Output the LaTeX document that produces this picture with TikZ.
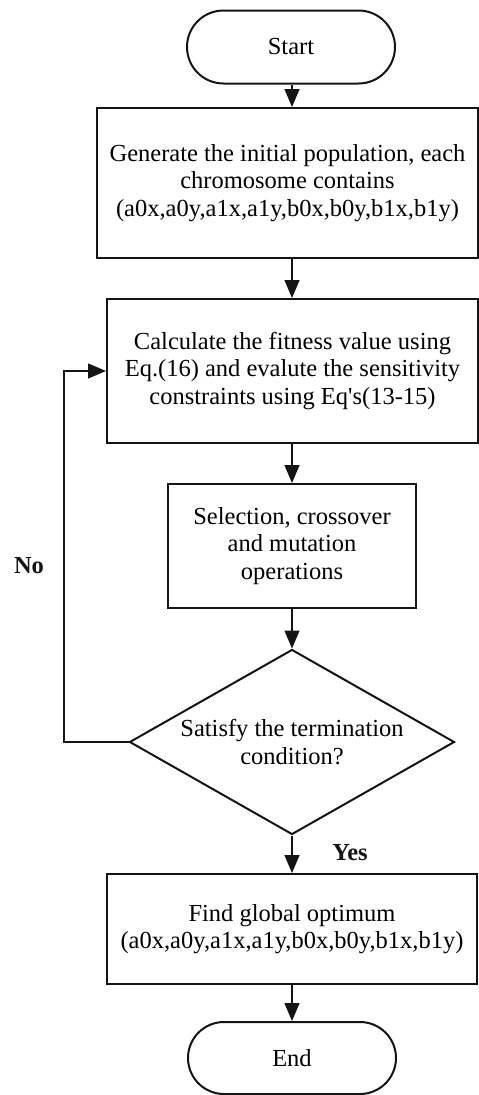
\documentclass[tikz,border=0pt]{standalone}
\usepackage{fontspec}
\setmainfont{Liberation Serif}
\usetikzlibrary{arrows.meta,positioning,shapes.geometric,shapes.misc}
\definecolor{ink}{RGB}{20,20,20}
\tikzset{
  >={Triangle[length=18pt,width=15pt]},
  box/.style={draw=ink,line width=2pt,align=center,inner sep=0pt,
    font=\fontsize{24.5}{27.5}\selectfont},
  term/.style={box,rounded rectangle,minimum width=208pt,minimum height=73pt},
  decision/.style={box,diamond,aspect=1.76,minimum width=325pt,minimum height=185pt},
  flow/.style={->,line width=1.3pt,draw=ink},
  tag/.style={font=\fontsize{24.5}{27.5}\selectfont\bfseries,text=ink},
}
\begin{document}
\begin{tikzpicture}[x=1pt,y=1pt]
  \useasboundingbox (0,0) rectangle (479,-1095);
  \node[term] (start) at (291,-47) {Start};
  \node[box,minimum width=381pt,minimum height=150pt] (init) at (287.5,-183)
    {Generate the initial population, each\\chromosome contains\\(a0x,a0y,a1x,a1y,b0x,b0y,b1x,b1y)};
  \node[box,minimum width=371pt,minimum height=144pt] (fit) at (292.5,-371)
    {Calculate the fitness value using\\Eq.(16) and evalute the sensitivity\\constraints using Eq\textquotesingle s(13-15)};
  \node[box,minimum width=248pt,minimum height=124pt] (ops) at (292,-546)
    {Selection, crossover\\and mutation\\operations};
  \node[decision] (cond) at (292,-742) {Satisfy the termination\\condition?};
  \node[box,minimum width=370pt,minimum height=110pt] (opt) at (292,-929)
    {Find global optimum\\(a0x,a0y,a1x,a1y,b0x,b0y,b1x,b1y)};
  \node[term,minimum height=72pt] (end) at (292,-1058) {End};
  \coordinate (loop) at (64,-742);
  \draw[flow] (start.south -| cond) -- (init.north -| cond);
  \draw[flow] (init.south -| cond) -- (fit.north -| cond);
  \draw[flow] (fit.south -| cond) -- (ops.north);
  \draw[flow] (ops) -- (cond);
  \draw[flow] (cond) -- (opt);
  \draw[flow] (opt) -- (end);
  \draw[flow] (cond.west) -- (loop) |- (fit.west);
  \node[tag] (no) at (29,-566) {No};
  \node[tag] (yes) at (350,-853) {Yes};
\end{tikzpicture}
\end{document}
